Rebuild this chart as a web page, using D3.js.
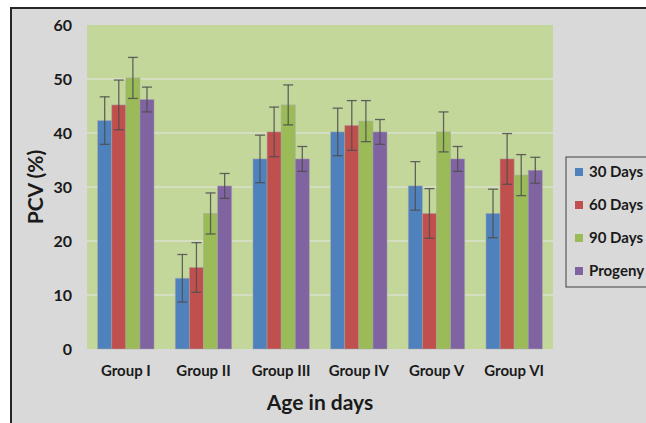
<!DOCTYPE html>
<html>
<head>
    <script src="https://cdnjs.cloudflare.com/ajax/libs/d3/7.8.5/d3.min.js"></script>
    <style>
        body { margin: 0; background: #ffffff; }
        text { font-family: Lato, "Liberation Sans", sans-serif; font-weight: bold; fill: #1a1a1a; }
    </style>
</head>
<body>
    <div id="chart"></div>
    <script>
const groups = ['Group I', 'Group II', 'Group III', 'Group IV', 'Group V', 'Group VI'];
const seriesNames = ['30 Days', '60 Days', '90 Days', 'Progeny'];
const colors = ['#4f81bd', '#c0504d', '#9bbb59', '#8064a2'];

// values per series, one entry per group
const days30 = [42.3, 13.1, 35.2, 40.2, 30.2, 25.1];
const days60 = [45.2, 15.1, 40.2, 41.4, 25.1, 35.2];
const days90 = [50.2, 25.1, 45.2, 42.2, 40.2, 32.2];
const progeny = [46.2, 30.2, 35.2, 40.2, 35.2, 33.1];

// error bar half-lengths
const err30 = [4.4, 4.4, 4.4, 4.4, 4.5, 4.5];
const err60 = [4.6, 4.6, 4.6, 4.6, 4.6, 4.7];
const err90 = [3.8, 3.8, 3.7, 3.8, 3.7, 3.8];
const errProgeny = [2.3, 2.3, 2.3, 2.3, 2.3, 2.4];

const yTicks = [0, 10, 20, 30, 40, 50, 60];

const allValues = [days30, days60, days90, progeny];
const allErrors = [err30, err60, err90, errProgeny];

const width = 646, height = 423;
const plot = { left: 87, right: 553, top: 25, bottom: 349 };

const svg = d3.select('#chart').append('svg')
    .attr('width', width)
    .attr('height', height);

// chart background and frame
svg.append('rect')
    .attr('x', 11).attr('y', 8)
    .attr('width', 660).attr('height', 430)
    .attr('fill', '#d9d9d9')
    .attr('stroke', '#262626')
    .attr('stroke-width', 2);

svg.append('rect')
    .attr('x', plot.left).attr('y', plot.top)
    .attr('width', plot.right - plot.left).attr('height', plot.bottom - plot.top)
    .attr('fill', '#c4d79b');

const x0 = d3.scaleBand()
    .domain(groups)
    .range([plot.left, plot.right]);

const x1 = d3.scaleBand()
    .domain(seriesNames)
    .range([0, x0.bandwidth()])
    .paddingOuter(0.755);

const y = d3.scaleLinear()
    .domain([0, 60])
    .range([plot.bottom, plot.top]);

// gridlines
svg.append('g')
    .selectAll('line')
    .data(yTicks.filter(t => t > 0 && t < 60))
    .join('line')
    .attr('x1', plot.left).attr('x2', plot.right)
    .attr('y1', d => y(d)).attr('y2', d => y(d))
    .attr('stroke', '#e4e4e4')
    .attr('stroke-width', 1);

// y axis labels
const yAxis = svg.append('g')
    .attr('transform', `translate(${plot.left},0)`)
    .call(d3.axisLeft(y).tickValues(yTicks).tickSize(0).tickPadding(15));
yAxis.select('.domain').remove();
yAxis.selectAll('text')
    .style('font-family', 'Lato, "Liberation Sans", sans-serif')
    .style('font-weight', 'bold')
    .style('font-size', '16px')
    .attr('fill', '#1a1a1a');

// x axis labels
const xAxis = svg.append('g')
    .attr('transform', `translate(0,${plot.bottom})`)
    .call(d3.axisBottom(x0).tickSize(0).tickPadding(16));
xAxis.select('.domain').remove();
xAxis.selectAll('text')
    .style('font-family', 'Lato, "Liberation Sans", sans-serif')
    .style('font-weight', 'bold')
    .style('font-size', '15px')
    .attr('fill', '#1a1a1a');

// bars
const barData = [];
seriesNames.forEach((s, si) => {
    groups.forEach((g, gi) => {
        barData.push({ group: g, series: s, si: si, value: allValues[si][gi], err: allErrors[si][gi] });
    });
});

svg.append('g')
    .selectAll('rect')
    .data(barData)
    .join('rect')
    .attr('x', d => x0(d.group) + x1(d.series))
    .attr('y', d => y(d.value))
    .attr('width', x1.bandwidth())
    .attr('height', d => y(0) - y(d.value))
    .attr('fill', d => colors[d.si])
    .attr('stroke', '#a6a6a6')
    .attr('stroke-opacity', 0.6)
    .attr('stroke-width', 0.8);

// error bars
const eb = svg.append('g')
    .selectAll('g')
    .data(barData)
    .join('g')
    .attr('stroke', '#4d4d4d')
    .attr('stroke-width', 1.3)
    .attr('stroke-opacity', 0.85);

const cx = d => x0(d.group) + x1(d.series) + x1.bandwidth() / 2;
eb.append('line')
    .attr('x1', cx).attr('x2', cx)
    .attr('y1', d => y(d.value + d.err)).attr('y2', d => y(d.value - d.err));
eb.append('line')
    .attr('x1', d => cx(d) - 5).attr('x2', d => cx(d) + 5)
    .attr('y1', d => y(d.value + d.err)).attr('y2', d => y(d.value + d.err));
eb.append('line')
    .attr('x1', d => cx(d) - 5).attr('x2', d => cx(d) + 5)
    .attr('y1', d => y(d.value - d.err)).attr('y2', d => y(d.value - d.err));

// axis titles
svg.append('text')
    .attr('transform', `translate(43,${(plot.top + plot.bottom) / 2}) rotate(-90)`)
    .attr('text-anchor', 'middle')
    .style('font-size', '21px')
    .text('PCV (%)');

svg.append('text')
    .attr('x', (plot.left + plot.right) / 2)
    .attr('y', 410)
    .attr('text-anchor', 'middle')
    .style('font-size', '21px')
    .text('Age in days');

// legend
const legend = svg.append('g');
legend.append('rect')
    .attr('x', 566).attr('y', 157)
    .attr('width', 100).attr('height', 130)
    .attr('fill', '#d9d9d9')
    .attr('stroke', '#404040')
    .attr('stroke-width', 1);

const items = legend.selectAll('g.item')
    .data(seriesNames)
    .join('g')
    .attr('class', 'item')
    .attr('transform', (d, i) => `translate(575,${172 + i * 33})`);

items.append('rect')
    .attr('x', 0).attr('y', -4)
    .attr('width', 8).attr('height', 8)
    .attr('fill', (d, i) => colors[i]);

items.append('text')
    .attr('x', 14)
    .attr('y', 5)
    .style('font-size', '15px')
    .text(d => d);
    </script>
</body>
</html>
